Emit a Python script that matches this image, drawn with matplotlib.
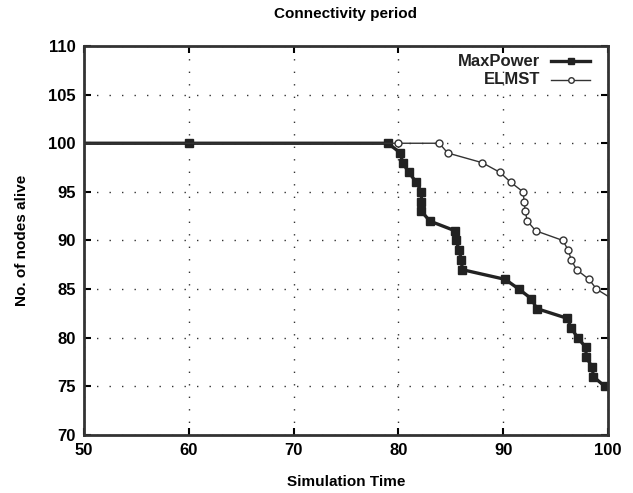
import matplotlib.pyplot as plt
from matplotlib.lines import Line2D
import numpy as np

plt.rcParams['font.family'] = ['Liberation Sans Narrow', 'Liberation Sans', 'DejaVu Sans']
plt.rcParams['font.weight'] = 'bold'

# MaxPower (filled squares)
mp_x = [40, 60, 79, 80.2, 80.4, 81, 81.7, 82.2, 82.2, 82.2, 83, 85.4, 85.5, 85.8, 86, 86.1,
        90.2, 91.5, 92.7, 93.2, 96.1, 96.5, 97.1, 97.9, 97.9, 98.5, 98.6, 99.7]
mp_y = [100, 100, 100, 99, 98, 97, 96, 95, 94, 93, 92, 91, 90, 89, 88, 87,
        86, 85, 84, 83, 82, 81, 80, 79, 78, 77, 76, 75]

# ELMST (open circles)
el_x = [40, 80, 83.9, 84.7, 88, 89.7, 90.7, 91.9, 92, 92.1, 92.3, 93.1, 95.7, 96.2, 96.5,
        97, 98.2, 98.9, 100.4]
el_y = [100, 100, 100, 99, 98, 97, 96, 95, 94, 93, 92, 91, 90, 89, 88, 87, 86, 85, 84]

fig = plt.figure(figsize=(6.33, 4.93), dpi=100)
ax = fig.add_axes([84 / 633, 1 - 435 / 493, 524 / 633, 389 / 493])

mp_style = dict(color='#222222', lw=2.4, marker='s', markerfacecolor='#222222')
el_style = dict(color='#333333', lw=1.0, marker='o', markerfacecolor='white',
                markeredgewidth=1.0)

ax.plot(mp_x, mp_y, ms=6.0, **mp_style)
ax.plot(el_x, el_y, ms=5.0, **el_style)

ax.set_xlim(50, 100)
ax.set_ylim(70, 110)
ax.set_xticks(np.arange(50, 101, 10))
ax.set_yticks(np.arange(70, 111, 5))
ax.grid(True, color='#333333', linestyle=(0, (1, 8)), linewidth=1.0)
ax.tick_params(direction='in', length=5, width=1.5, top=True, right=True,
               labelsize=12, pad=6)
for lab in ax.get_xticklabels() + ax.get_yticklabels():
    lab.set_fontweight('bold')
for sp in ax.spines.values():
    sp.set_linewidth(2.0)
    sp.set_color('#333333')

ax.set_title('Connectivity period', fontsize=11, fontweight='bold', pad=20)
ax.set_xlabel('Simulation Time', fontsize=11, fontweight='bold', labelpad=12)
ax.set_ylabel('No. of nodes alive', fontsize=11, fontweight='bold', labelpad=14)

# gnuplot-style key: right-aligned text, then line sample
key = [('MaxPower', mp_style, 4.0), ('ELMST', el_style, 4.0)]
x_text, x0, x1 = (540 - 84) / 524, (551 - 84) / 524, (590 - 84) / 524
for i, (name, style, ms) in enumerate(key):
    yk = 1 - (61 + 18.5 * i - 46) / 389
    ax.text(x_text, yk, name, transform=ax.transAxes, ha='right', va='center',
            fontsize=12, fontweight='bold', color='#222222')
    ax.add_line(Line2D([x0, x1], [yk, yk], transform=ax.transAxes,
                       markevery=[], **{k: v for k, v in style.items() if k != 'marker'}))
    ax.add_line(Line2D([(x0 + x1) / 2], [yk], transform=ax.transAxes, ms=ms,
                       linestyle='none', marker=style['marker'],
                       color=style['color'], markerfacecolor=style['markerfacecolor'],
                       markeredgewidth=1.0))

fig.savefig('out.png', dpi=100)
